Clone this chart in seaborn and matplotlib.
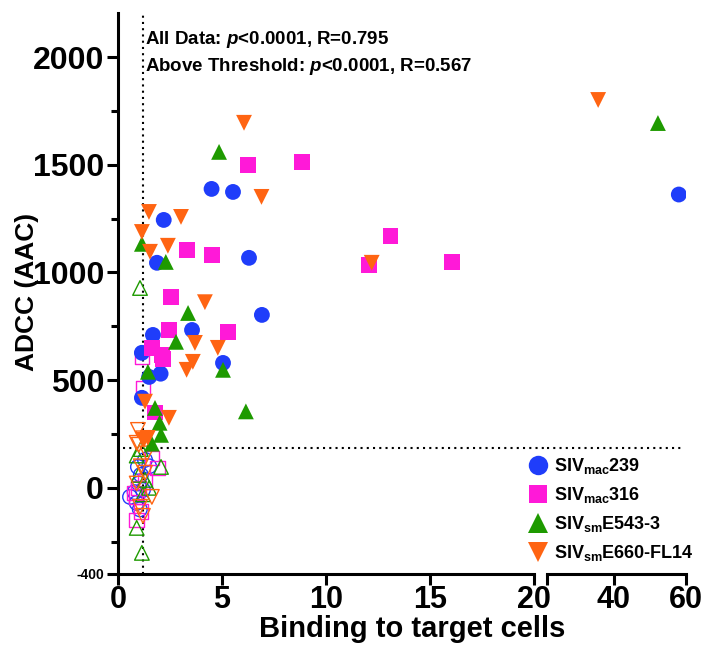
import numpy as np
import pandas as pd
import matplotlib
matplotlib.use('Agg')
import matplotlib.pyplot as plt
from matplotlib.lines import Line2D
import seaborn as sns

# ========== 数据 ==========
viruses = ['SIVmac239', 'SIVmac316', 'SIVsmE543-3', 'SIVsmE660-FL14']
legend_labels = [r'SIV$_{\mathrm{mac}}$239', r'SIV$_{\mathrm{mac}}$316',
                 r'SIV$_{\mathrm{sm}}$E543-3', r'SIV$_{\mathrm{sm}}$E660-FL14']
colors = ['#1F3DFA', '#FF19D8', '#1E9A00', '#FF6412']
markers = ['o', 's', '^', 'v']

# 实心点（超过阈值）
mac239_x = [4.5, 5.53, 2.2, 1.875, 6.3, 6.92, 3.56, 1.68, 5.05, 1.15, 1.5, 2.05, 1.15, 58.0]
mac239_y = [1388, 1374, 1244, 1045, 1068, 803, 733, 710, 580, 627, 515, 530, 418, 1362]
mac316_x = [6.25, 8.85, 13.1, 12.07, 16.06, 3.3, 4.52, 2.55, 2.45, 5.29, 1.63, 2.1, 2.16, 1.78]
mac316_y = [1500, 1513, 1170, 1035, 1049, 1105, 1082, 885, 733, 724, 650, 617, 600, 350]
e543_x = [52.2, 4.86, 1.15, 2.3, 3.37, 2.79, 5.05, 6.15, 1.44, 1.78, 2.0, 2.07, 1.63]
e543_y = [1694, 1560, 1133, 1049, 812, 678, 548, 355, 539, 371, 302, 246, 205]
e660_x = [35.6, 6.06, 6.9, 12.2, 1.49, 3.03, 1.15, 1.54, 2.4, 4.18, 3.7, 4.8, 3.6, 3.3,
          1.3, 2.45, 1.44, 1.25]
e660_y = [1801, 1695, 1351, 1045, 1281, 1258, 1188, 1096, 1124, 862, 673, 650, 585, 548,
          400, 325, 232, 223]

# 空心点（未达阈值）
mac239_open_x = [0.58, 0.9, 1.0, 1.1, 1.3, 1.5, 1.2, 0.96, 1.05, 0.8]
mac239_open_y = [-42, -70, 20, 60, 130, 100, -10, 97, -100, -20]
mac316_open_x = [1.15, 1.2, 0.9, 1.63, 1.9, 1.0, 0.9, 1.3, 0.8, 1.1]
mac316_open_y = [608, 464, -149, 139, 93, 0, -40, 30, -23, -110]
e543_open_x = [1.06, 2.07, 0.9, 1.15, 1.3, 1.0, 1.5, 1.2, 0.9, 1.1]
e543_open_y = [928, 97, -186, -302, 37, 60, 0, -30, 150, 180]
e660_open_x = [0.96, 0.9, 1.63, 1.06, 1.2, 1.0, 1.1, 1.3, 0.9, 1.4, 1.2]
e660_open_y = [269, 209, -42, -88, -130, 200, 100, 70, 20, 160, 230]

threshold_x = 1.2
threshold_y = 185


def make_df(xs, ys):
    parts = []
    for v, x, y in zip(viruses, xs, ys):
        parts.append(pd.DataFrame({'binding': x, 'adcc': y, 'virus': v}))
    return pd.concat(parts, ignore_index=True)


filled_df = make_df([mac239_x, mac316_x, e543_x, e660_x],
                    [mac239_y, mac316_y, e543_y, e660_y])
open_df = make_df([mac239_open_x, mac316_open_x, e543_open_x, e660_open_x],
                  [mac239_open_y, mac316_open_y, e543_open_y, e660_open_y])

# ========== 全局设置 ==========
sns.set_style('ticks')
plt.rcParams['font.family'] = ['Liberation Sans', 'DejaVu Sans']
plt.rcParams['font.weight'] = 'bold'
plt.rcParams['mathtext.fontset'] = 'custom'
plt.rcParams['mathtext.rm'] = 'Liberation Sans:bold'
plt.rcParams['mathtext.it'] = 'Liberation Sans:bold:italic'
plt.rcParams['mathtext.bf'] = 'Liberation Sans:bold'
for key in ['text.color', 'axes.labelcolor', 'xtick.color', 'ytick.color', 'axes.edgecolor']:
    plt.rcParams[key] = 'black'

fig = plt.figure(figsize=(7.06, 6.49), dpi=100)
ax1 = fig.add_axes([0.1671, 0.1156, 0.5892, 0.8644])
ax2 = fig.add_axes([0.7748, 0.1156, 0.1969, 0.8644], sharey=ax1)


def draw_points(ax):
    sns.scatterplot(data=open_df, x='binding', y='adcc', hue='virus', style='virus',
                    hue_order=viruses, style_order=viruses, palette=colors,
                    markers=markers, s=110, linewidth=1.0, legend=False, ax=ax)
    coll = ax.collections[-1]
    fc = coll.get_facecolors()
    coll.set_edgecolors(fc)
    coll.set_facecolors('none')
    sns.scatterplot(data=filled_df, x='binding', y='adcc', hue='virus', style='virus',
                    hue_order=viruses, style_order=viruses, palette=colors,
                    markers=markers, s=130, linewidth=0, legend=False, ax=ax)


draw_points(ax1)
draw_points(ax2)

# 阈值虚线
ax1.axvline(threshold_x, color='black', linestyle=(0, (1, 2)), linewidth=1.5, zorder=0)
ax1.plot([0.25, 20.63], [threshold_y, threshold_y], color='black',
         linestyle=(0, (1, 2)), linewidth=1.5, clip_on=False, zorder=0)
ax2.plot([21.4, 59.3], [threshold_y, threshold_y], color='black',
         linestyle=(0, (1, 2)), linewidth=1.5, zorder=0)

# ---------- 坐标轴 ----------
ax1.set_xlim(0, 20)
ax2.set_xlim(21.4, 60)
ax1.set_ylim(-400, 2205)

ax1.set_xticks([0, 5, 10, 15, 20])
ax1.set_yticks([-400, 0, 500, 1000, 1500, 2000])
ax1.set_yticks([-250, 250, 750, 1250, 1750], minor=True)
ax1.set_yticklabels(['-400', '0', '500', '1000', '1500', '2000'])
ax2.set_xticks([21.4, 40, 60])
ax2.set_xticklabels(['', '40', '60'])

for ax in (ax1, ax2):
    ax.spines['top'].set_visible(False)
    ax.spines['right'].set_visible(False)
    ax.spines['bottom'].set_linewidth(2.2)
    ax.spines['left'].set_linewidth(2.2)
    ax.tick_params(axis='both', which='major', length=8, width=2.2, labelsize=23, pad=2)
    ax.tick_params(axis='x', which='major', labelsize=22, pad=0)
    ax.tick_params(axis='y', which='minor', length=5, width=2.2)
    ax.set_xlabel('')
    ax.set_ylabel('')

ax2.spines['left'].set_visible(False)
ax2.tick_params(axis='y', which='both', left=False, labelleft=False)
ax1.get_yticklabels()[0].set_fontsize(10)

ax1.set_ylabel('ADCC (AAC)', fontsize=19, fontweight='bold')
ax1.yaxis.set_label_coords(-0.19, 0.503)
ax1.set_xlabel('Binding to target cells', fontsize=21, fontweight='bold')
ax1.xaxis.set_label_coords(0.707, -0.073)

ax1.text(0.065, 0.952, r'All Data: $p$<0.0001, R=0.795', transform=ax1.transAxes,
         fontsize=13.5, fontweight='bold', va='center', ha='left')
ax1.text(0.065, 0.904, r'Above Threshold: $p$<0.0001, R=0.567', transform=ax1.transAxes,
         fontsize=13.5, fontweight='bold', va='center', ha='left')

# 图例
handles = [Line2D([], [], marker=m, color=c, linestyle='none',
                  markersize=(13 if m == 's' else 14), markeredgewidth=0)
           for m, c in zip(markers, colors)]
fig.legend(handles, legend_labels, loc='upper left', bbox_to_anchor=(0.746, 0.297),
           frameon=False, fontsize=13, handlelength=1.2, handletextpad=0.3,
           labelspacing=0.5, borderpad=0, borderaxespad=0)

plt.savefig('out.png', dpi=100)
